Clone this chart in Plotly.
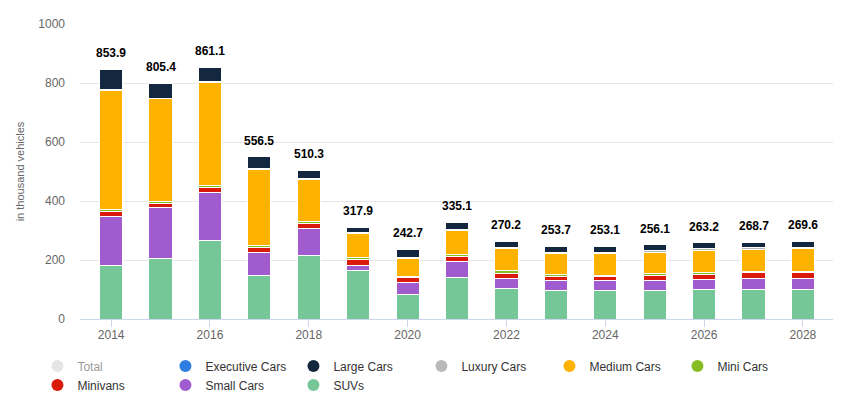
import plotly.graph_objects as go

# Vehicle sales by segment, in thousand vehicles
years = list(range(2014, 2029))
total = [853.9, 805.4, 861.1, 556.5, 510.3, 317.9, 242.7, 335.1, 270.2, 253.7, 253.1, 256.1, 263.2, 268.7, 269.6]
suvs = [181, 206, 267, 147, 215, 164, 83, 141, 103, 96, 96, 96, 101, 101, 101]
small_cars = [166, 172, 163, 78, 91, 19, 40, 54, 34, 34, 34, 34, 34, 37, 37]
minivans = [17, 15, 17, 17, 17, 18, 17, 16, 18, 14, 14, 17, 17, 18, 18]
mini_cars = [7, 7, 7, 7, 8, 7, 5, 7, 9, 6, 5, 8, 6, 6, 6]
medium_cars = [403, 346, 349, 258, 142, 81, 60, 82, 75, 72, 74, 71, 74, 74, 77]
luxury_cars = [5, 3, 3, 2, 3, 3, 5, 5, 5, 5, 4, 6, 6, 5, 4]
large_cars = [68, 50, 48, 42, 29, 19, 27, 23, 19, 20, 20, 20, 20, 19, 21]
executive_cars = [0.3, 3, 0.3, 3, 0.3, 0.3, 0.3, 3, 0.3, 3, 0.3, 0.3, 0.3, 3, 0.3]

colors = {
    "Total": "#cccccc",
    "Executive Cars": "#2d7ee0",
    "Large Cars": "#13273e",
    "Luxury Cars": "#b9b9b9",
    "Medium Cars": "#ffb300",
    "Mini Cars": "#86bd24",
    "Minivans": "#da1a0b",
    "Small Cars": "#a05bcf",
    "SUVs": "#75c798",
}

# stacked bottom to top
stack = [
    ("SUVs", suvs),
    ("Small Cars", small_cars),
    ("Minivans", minivans),
    ("Mini Cars", mini_cars),
    ("Medium Cars", medium_cars),
    ("Luxury Cars", luxury_cars),
    ("Large Cars", large_cars),
    ("Executive Cars", executive_cars),
]

fig = go.Figure()
for name, vals in stack:
    fig.add_trace(go.Bar(
        x=years, y=vals, name=name, width=0.47,
        marker=dict(color=colors[name], line=dict(color="white", width=1)),
        showlegend=False, legendgroup=name,
    ))

# legend entries with round markers, in the original order
legend_order = ["Total", "Executive Cars", "Large Cars", "Luxury Cars", "Medium Cars",
                "Mini Cars", "Minivans", "Small Cars", "SUVs"]
for name in legend_order:
    fig.add_trace(go.Scatter(
        x=[None], y=[None], mode="markers", name=name, legendgroup=name,
        marker=dict(color=colors[name], size=12, symbol="circle"),
        visible="legendonly" if name == "Total" else True,
    ))

# total labels above the stacks
for yr, t in zip(years, total):
    fig.add_annotation(x=yr, y=t, text="<b>%.1f</b>" % t, showarrow=False,
                       yanchor="bottom", yshift=5,
                       font=dict(size=12, color="#000000"))

# page body adds an 8px margin, so the figure is 8px smaller than the window
fig.update_layout(
    width=833, height=396,
    barmode="stack",
    plot_bgcolor="white", paper_bgcolor="white",
    margin=dict(l=72, r=1, t=16, b=85),
    font=dict(family="Liberation Sans, Arial, sans-serif", size=12, color="#666666"),
    xaxis=dict(
        range=[2014 - 0.63, 2028 + 0.75], tickmode="linear", tick0=2014, dtick=2,
        showgrid=False, showline=True, linecolor="#ccd6eb", linewidth=1,
        ticks="outside", ticklen=7, tickcolor="#ccd6eb", ticklabelstandoff=-2,
        tickfont=dict(size=12, color="#666666"), zeroline=False, automargin=False,
    ),
    yaxis=dict(
        range=[0, 1000], dtick=200, gridcolor="#e6e6e6", zeroline=False,
        tickfont=dict(size=12, color="#666666"), automargin=False, ticklabelstandoff=14,
        title=dict(text="in thousand vehicles", font=dict(size=11, color="#666666"), standoff=11),
    ),
    legend=dict(
        orientation="h", x=-0.056, y=-0.11, xanchor="left", yanchor="top",
        entrywidth=83, entrywidthmode="pixels", itemsizing="constant",
        font=dict(size=12, color="#333333"), tracegroupgap=0,
    ),
)

fig.write_html("out.html")
